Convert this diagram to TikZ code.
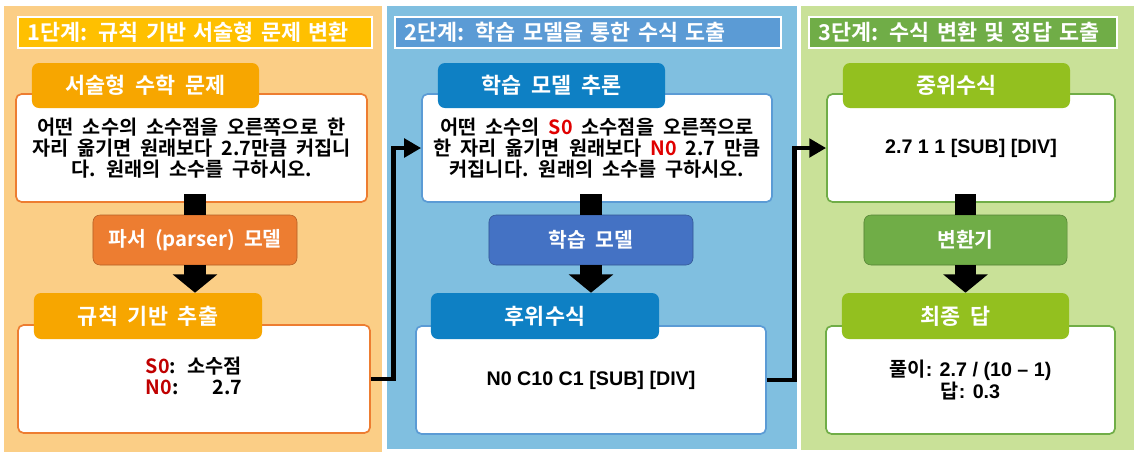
\documentclass[tikz,border=0pt]{standalone}
\usepackage{fontspec}
\setmainfont{Noto Sans CJK KR}[BoldFont={Noto Sans CJK KR Bold},WordSpace=2]
\newfontfamily\arfont{Liberation Sans}
\usetikzlibrary{arrows.meta}
\definecolor{sandbg}{HTML}{FBCE86}
\definecolor{skybg}{HTML}{80BFE0}
\definecolor{limebg}{HTML}{C9E198}
\definecolor{amber}{HTML}{FFC000}
\definecolor{tangerine}{HTML}{F7A600}
\definecolor{rust}{HTML}{ED7D31}
\definecolor{steel}{HTML}{5B9BD5}
\definecolor{ocean}{HTML}{0E80C4}
\definecolor{royal}{HTML}{4472C4}
\definecolor{leaf}{HTML}{70AD47}
\definecolor{lime}{HTML}{93C01F}
\definecolor{wine}{HTML}{C00000}
\definecolor{scarlet}{HTML}{E00000}

\begin{document}
\begin{tikzpicture}[x=0.025cm,y=-0.025cm,font=\bfseries,
  title/.style={draw=white,line width=0.8pt,text=white,align=left,
    minimum height=0.775cm,inner xsep=0.25cm,font=\bfseries\fontsize{15.5}{17}\selectfont},
  card/.style={draw=#1,fill=white,line width=1.2pt,rounded corners=4pt,
    minimum height=2.7cm,align=center,font=\bfseries\fontsize{14}{15.2}\selectfont},
  head/.style={fill=#1,text=white,rounded corners=5pt,minimum width=5.7cm,
    minimum height=1.15cm,font=\bfseries\fontsize{15.5}{17}\selectfont},
  stepbox/.style={fill=#1,draw=#1!75!black,text=white,rounded corners=5pt,
    minimum height=1.25cm,font=\bfseries\fontsize{14.5}{17}\selectfont},
  stub/.style={line width=15.5pt},
  bigarrow/.style={line width=15.5pt,-{Triangle[width=31pt,length=13pt]}},
  link/.style={line width=3.5pt,-{Triangle[width=13pt,length=12pt]}},
  ar/.style={font=\arfont\bfseries\fontsize{14}{16}\selectfont}]
  \useasboundingbox (0,0) rectangle (1134,456);
  % panels
  \fill[sandbg] (4,6) rectangle (382,452);
  \fill[skybg] (387,6) rectangle (797,449);
  \fill[limebg] (801,6) rectangle (1134,450);
  \node[title,fill=amber,text width=8.35cm] (t1) at (195,32.5) {1단계: 규칙 기반 서술형 문제 변환};
  \node[title,fill=steel,text width=9.15cm] (t2) at (588,32.5) {2단계: 학습 모델을 통한 수식 도출};
  \node[title,fill=leaf,text width=7.2cm] (t3) at (963,32.5) {3단계: 수식 변환 및 정답 도출};

  % stage 1
  \node[card=rust,minimum width=8.775cm] (q1) at (191.5,148)
    {어떤 소수의 소수점을 오른쪽으로 한\\자리 옮기면 원래보다 2.7만큼 커집니\\다. 원래의 소수를 구하시오.};
  \node[head=tangerine,minimum width=5.675cm,minimum height=1.125cm] (h11) at (145.5,85.5) {서술형 수학 문제};
  \node[stepbox=rust,minimum width=5.1cm] (s1) at (195,240) {파서 (parser) 모델};
  \node[card=rust,minimum width=8.8cm] (q2) at (194,379)
    {\begin{tabular}{@{}l@{\ }r@{}}\textcolor{wine}{S0}: & 소수점\\ \textcolor{wine}{N0}: & 2.7\end{tabular}};
  \node[head=tangerine] (h12) at (148,316) {규칙 기반 추출};
  \draw[stub] (s1.north) -- ([yshift=6pt]s1.north |- q1.south);
  \draw[bigarrow] (s1.south) -- (s1.south |- h12.north);

  % stage 2
  \node[card=steel,minimum width=8.75cm] (p1) at (597,148)
    {어떤 소수의 \textcolor{scarlet}{S0} 소수점을 오른쪽으로\\한 자리 옮기면 원래보다 \textcolor{scarlet}{N0} 2.7 만큼\\커집니다. 원래의 소수를 구하시오.};
  \node[head=ocean,minimum width=5.675cm,minimum height=1.125cm] (h21) at (551.5,85.5) {학습 모델 추론};
  \node[stepbox=royal,minimum width=5.1cm] (s2) at (591,240) {학습 모델};
  \node[card=steel,minimum width=8.75cm,ar] (p2) at (591,380) {N0 C10 C1 [SUB] [DIV]};
  \node[head=ocean] (h22) at (545,316) {후위수식};
  \draw[stub] (s2.north) -- ([yshift=6pt]s2.north |- p1.south);
  \draw[bigarrow] (s2.south) -- (s2.south |- h22.north);

  % stage 3
  \node[card=leaf,minimum width=7.2cm,ar] (r1) at (971,148) {2.7 1 1 [SUB] [DIV]};
  \node[head=lime,minimum width=5.675cm,minimum height=1.125cm] (h31) at (956.5,85.5) {중위수식};
  \node[stepbox=leaf,minimum width=5.075cm] (s3) at (965.5,240) {변환기};
  \node[card=leaf,minimum width=7.225cm] (r2) at (970.5,380)
    {풀이{\arfont: 2.7 / (10 – 1)}\\답{\arfont: 0.3}};
  \node[head=lime,minimum width=5.675cm] (h32) at (955.5,316) {최종 답};
  \draw[stub] (s3.north) -- ([yshift=6pt]s3.north |- r1.south);
  \draw[bigarrow] (s3.south) -- (s3.south |- h32.north);

  % hand-over between stages
  \draw[link] (q2.east) -- ++(23,0) |- (p1.west);
  \draw[link] (p2.east) -- ++(28,0) |- (r1.west);
\end{tikzpicture}
\end{document}
